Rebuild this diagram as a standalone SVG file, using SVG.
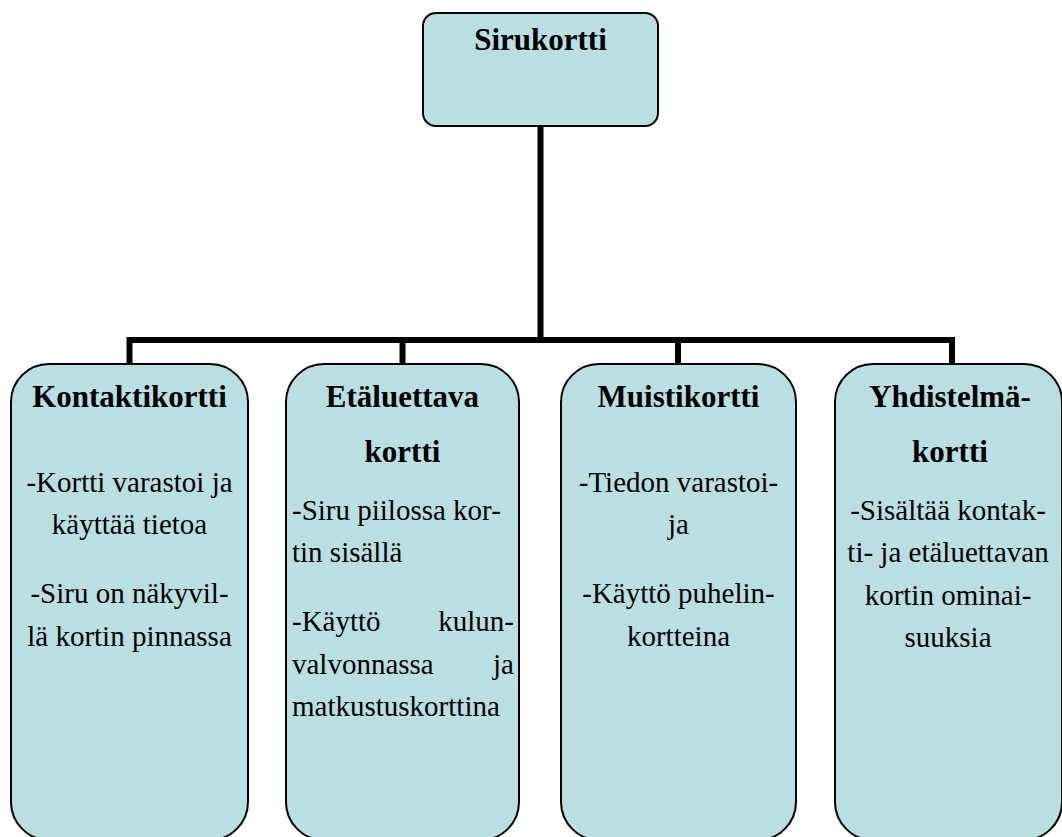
<svg xmlns="http://www.w3.org/2000/svg" width="1062" height="837" viewBox="0 0 1062 837">
<style>
.box{fill:#b9dfe3;stroke:#000;stroke-width:2}
.h{font-family:"Liberation Serif","Times New Roman",serif;font-weight:bold;font-size:31px;fill:#000;text-anchor:middle}
.t{font-family:"Liberation Serif","Times New Roman",serif;font-size:29px;fill:#000}
.c{text-anchor:middle}
.e{text-anchor:end}
.conn{fill:none;stroke:#000;stroke-width:6}
</style>
<rect width="1062" height="837" fill="#fff"/>
<g id="connectors">
<path class="conn" d="M540.5 126 V340 M127 340 H955 M129.5 337 V364 M402.5 337 V364 M678 337 V364 M952 337 V364"/>
</g>
<g id="sirukortti">
<rect class="box" x="423" y="13" width="235" height="113" rx="13"/>
<text class="h" x="540.5" y="50">Sirukortti</text>
</g>
<g id="kontaktikortti">
<rect class="box" x="11" y="364" width="237" height="476" rx="38"/>
<text class="h" x="129.5" y="407">Kontaktikortti</text>
<text class="t c" x="129.5" y="492">-Kortti varastoi ja</text>
<text class="t c" x="129.5" y="534">käyttää tietoa</text>
<text class="t c" x="129.5" y="603">-Siru on näkyvil-</text>
<text class="t c" x="129.5" y="646">lä kortin pinnassa</text>
</g>
<g id="etaluettava">
<rect class="box" x="286" y="364" width="233" height="476" rx="38"/>
<text class="h" x="402.5" y="407">Etäluettava</text>
<text class="h" x="402.5" y="462">kortti</text>
<text class="t" x="292" y="520">-Siru piilossa kor-</text>
<text class="t" x="292" y="562">tin sisällä</text>
<text class="t" x="292" y="631">-Käyttö</text>
<text class="t e" x="514" y="631">kulun-</text>
<text class="t" x="292" y="674">valvonnassa</text>
<text class="t e" x="514" y="674">ja</text>
<text class="t" x="292" y="716">matkustuskorttina</text>
</g>
<g id="muistikortti">
<rect class="box" x="561" y="364" width="235" height="476" rx="38"/>
<text class="h" x="678.5" y="407">Muistikortti</text>
<text class="t c" x="678.5" y="492">-Tiedon varastoi-</text>
<text class="t c" x="678.5" y="534">ja</text>
<text class="t c" x="678.5" y="603">-Käyttö puhelin-</text>
<text class="t c" x="678.5" y="646">kortteina</text>
</g>
<g id="yhdistelmakortti">
<rect class="box" x="835" y="364" width="227" height="476" rx="38"/>
<text class="h" x="950" y="407">Yhdistelmä-</text>
<text class="h" x="950" y="462">kortti</text>
<text class="t c" x="948" y="520">-Sisältää kontak-</text>
<text class="t c" x="948" y="562">ti- ja etäluettavan</text>
<text class="t c" x="948" y="605">kortin ominai-</text>
<text class="t c" x="948" y="647">suuksia</text>
</g>
</svg>
